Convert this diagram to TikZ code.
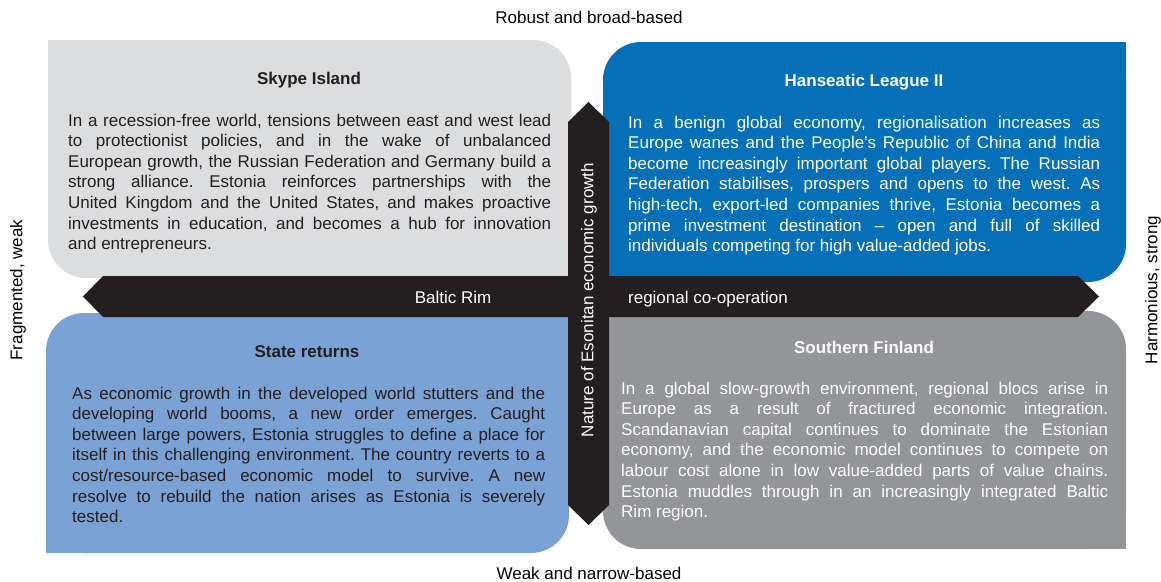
\documentclass[tikz,border=0pt]{standalone}
\usepackage{fontspec}
\setmainfont{Liberation Sans}
\usepackage{xcolor}
\usetikzlibrary{positioning}
\frenchspacing

\definecolor{skypegray}{HTML}{DCDDDE}
\definecolor{hanseblue}{HTML}{0570B8}
\definecolor{statesky}{HTML}{7BA2D4}
\definecolor{finngray}{HTML}{939598}
\definecolor{barblack}{HTML}{231F20}

\begin{document}
\begin{tikzpicture}[x=1pt,y=-1pt,
    label/.style={inner sep=0pt,font=\fontsize{17}{20.6}\selectfont},
    title/.style={label,anchor=base,font=\fontsize{17}{20.6}\selectfont\bfseries},
    body/.style={label,anchor=base west,align=justify}]

    \useasboundingbox (0,0) rectangle (1161,581);

    % the four scenarios
    \fill[skypegray,rounded corners=38pt] (48,40) rectangle (571,278);
    \fill[skypegray] (48,40) rectangle (98,90);
    \fill[skypegray] (521,228) rectangle (571,278);

    \fill[hanseblue,rounded corners=38pt] (603,42) rectangle (1126,282);
    \fill[hanseblue] (1076,42) rectangle (1126,92);
    \fill[hanseblue] (603,232) rectangle (653,282);

    \fill[statesky,rounded corners=38pt] (46,313) rectangle (569,553);
    \fill[statesky] (46,503) rectangle (96,553);
    \fill[statesky] (519,313) rectangle (569,363);

    \fill[finngray,rounded corners=38pt] (603,311) rectangle (1126,549);
    \fill[finngray] (603,311) rectangle (653,361);
    \fill[finngray] (1076,499) rectangle (1126,549);

    % axes
    \fill[barblack] (83,296.5) -- (103,276) -- (1078,276) -- (1099,296.5)
        -- (1078,317) -- (103,317) -- cycle;
    \fill[barblack] (588.5,102) -- (609,122) -- (609,505) -- (588.5,525)
        -- (568,505) -- (568,122) -- cycle;

    \node[label,anchor=base] (top) at (589,23) {Robust and broad-based};
    \node[label,anchor=base] (bottom) at (589,579) {Weak and narrow-based};
    \node[label,rotate=90] (left) at (18,290) {Fragmented, weak};
    \node[label,rotate=90] (right) at (1153,290) {Harmonious, strong};
    \node[label,rotate=90,white] (nature) at (589,300) {Nature of Esonitan economic growth};
    \node[label,anchor=base,white] (baltic) at (453,303) {Baltic Rim};
    \node[label,anchor=base,white] (regional) at (708,303) {regional co-operation};

    % texts
    \node[title,text=barblack] (skype) at (309,84) {Skype Island};
    \node[body,text=barblack,text width=483pt] (skypetext) at (68,126) {In a recession-free world, tensions between east and west lead\linebreak
      to protectionist policies, and in the wake of unbalanced\linebreak
      European growth, the Russian Federation and Germany build a\linebreak
      strong alliance. Estonia reinforces partnerships with the\linebreak
      United Kingdom and the United States, and makes proactive\linebreak
      investments in education, and becomes a hub for innovation\linebreak
      and entrepreneurs.};

    \node[title,white] (hansa) at (864,86) {Hanseatic League II};
    \node[body,white,text width=472pt] (hansatext) at (628,128) {In a benign global economy, regionalisation increases as\linebreak
      Europe wanes and the People’s Republic of China and India\linebreak
      become increasingly important global players. The Russian\linebreak
      Federation stabilises, prospers and opens to the west. As\linebreak
      high-tech, export-led companies thrive, Estonia becomes a\linebreak
      prime investment destination – open and full of skilled\linebreak
      individuals competing for high value-added jobs.};

    \node[title,text=barblack] (state) at (307,357) {State returns};
    \node[body,text=barblack,text width=473pt] (statetext) at (72,399) {As economic growth in the developed world stutters and the\linebreak
      developing world booms, a new order emerges. Caught\linebreak
      between large powers, Estonia struggles to define a place for\linebreak
      itself in this challenging environment. The country reverts to a\linebreak
      cost/resource-based economic model to survive. A new\linebreak
      resolve to rebuild the nation arises as Estonia is severely\linebreak
      tested.};

    \node[title,white] (finland) at (864,353) {Southern Finland};
    \node[body,white,text width=487pt] (finlandtext) at (621,394) {In a global slow-growth environment, regional blocs arise in\linebreak
      Europe as a result of fractured economic integration.\linebreak
      Scandanavian capital continues to dominate the Estonian\linebreak
      economy, and the economic model continues to compete on\linebreak
      labour cost alone in low value-added parts of value chains.\linebreak
      Estonia muddles through in an increasingly integrated Baltic\linebreak
      Rim region.};
\end{tikzpicture}
\end{document}
